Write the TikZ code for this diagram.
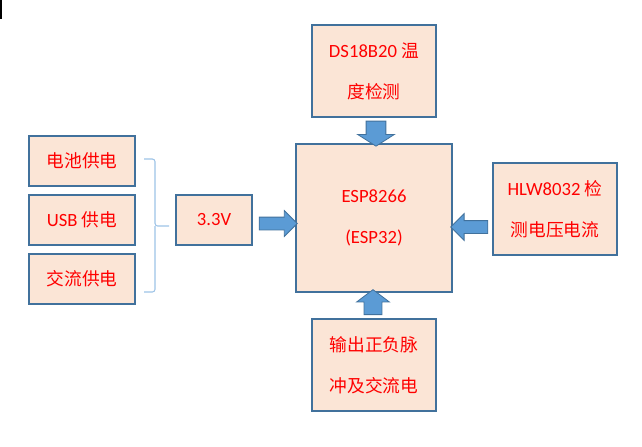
\documentclass[tikz,border=0pt]{standalone}
\usepackage{fontspec}
\setmainfont{Carlito}
\newfontfamily\cjk{Noto Sans CJK SC}[Scale=0.95]
\usetikzlibrary{shapes.arrows}
\definecolor{boxfill}{HTML}{FBE5D6}
\definecolor{boxline}{HTML}{41719C}
\definecolor{arrfill}{HTML}{5B9BD5}
\definecolor{bracecol}{HTML}{9DC3E6}
\begin{document}
\begin{tikzpicture}[x=0.75pt, y=-0.75pt,
    every node/.style={font=\fontsize{14}{30.75}\selectfont, align=center, text=red},
    box/.style={rectangle, draw=boxline, fill=boxfill, line width=0.9pt, inner sep=0pt},
    src/.style={box, minimum width=79.5pt, minimum height=37.5pt},
    side/.style={box, minimum width=93pt, minimum height=69pt},
    blk/.style={single arrow, draw=boxline, fill=arrfill, line width=0.6pt, inner sep=0pt}
]
\useasboundingbox (0,0) rectangle (642,446);
\fill[black] (0,0) rectangle (2,19);
\node[src] (bat) at (82,161) {\cjk 电池供电};
\node[src] (usb) at (82,220) {USB {\cjk 供电}};
\node[src] (ac)  at (82,279) {\cjk 交流供电};
\node[box, minimum width=57pt, minimum height=37.5pt] (vcc) at (214,220) {3.3V};
\node[box, minimum width=117pt, minimum height=111pt] (esp) at (374,218) {ESP8266\\(ESP32)};
\node[side] (temp) at (374,71)  {DS18B20 {\cjk 温}\\{\cjk 度检测}};
\node[side] (hlw)  at (555,209) {HLW8032 {\cjk 检}\\{\cjk 测电压电流}};
\node[side] (out)  at (374,365) {\cjk 输出正负脉\\\cjk 冲及交流电};
\coordinate (tip) at (169,226);
\draw[bracecol, line width=0.8pt, rounded corners=2pt]
    (144,159) -| (155,226) -- (tip) (155,226) |- (144,292);
\node[blk, minimum height=28.5pt, inner ysep=4.5pt, single arrow head extend=4.9pt] (a1) at (275,223.5) {};
\node[blk, minimum height=18.75pt, inner xsep=7.1pt, single arrow head extend=6.4pt, single arrow tip angle=115, shape border rotate=270] (a2) at (376,130.5) {};
\node[blk, minimum height=27.75pt, inner ysep=4.5pt, single arrow head extend=5.2pt, shape border rotate=180] (a3) at (472.5,227) {};
\node[blk, minimum height=18.75pt, inner xsep=6.4pt, single arrow head extend=5.6pt, single arrow tip angle=106, shape border rotate=90] (a4) at (373,305.5) {};
\end{tikzpicture}
\end{document}
